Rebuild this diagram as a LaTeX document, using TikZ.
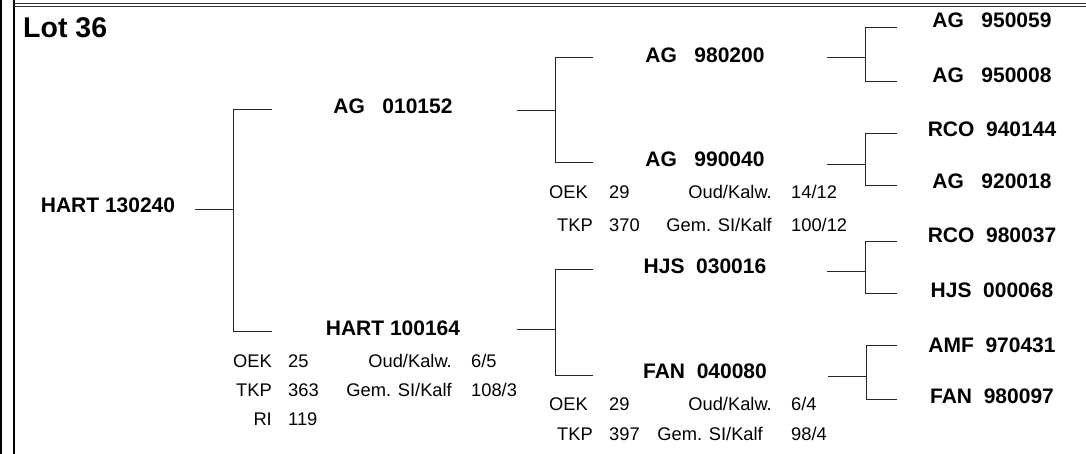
\documentclass[tikz,border=0pt]{standalone}
\usepackage{fontspec}
\setmainfont{Liberation Sans}

\begin{document}
\begin{tikzpicture}[x=1pt, y=-1pt, font=\fontsize{18.3}{22}\selectfont]%

            \tikzstyle{bull} = [inner sep = 0pt, anchor = base, font = \fontsize{21}{25}\selectfont\bfseries]
            \tikzstyle{key} = [inner sep = 0pt, anchor = base east]
            \tikzstyle{val} = [inner sep = 0pt, anchor = base west]
            \tikzstyle{link} = [line width = 0.9pt, black!85]
            \tikzstyle{rule} = [line width = 1pt, black!80]
        %
            \useasboundingbox (0,0) rectangle (1086,454);

                %% Frame
                \draw[line width = 2pt] (1,0) -- (1,454);
                \draw[line width = 1.7pt] (14,0) -- (14,454);
                \draw[rule] (14,3.8) -- (1086,3.8);
                \draw[rule] (14,6.3) -- (1086,6.3);

                \node [anchor = base west, inner sep = 0pt, font = \fontsize{28.5}{32}\selectfont\bfseries] (lot) at (23,38) {Lot 36};

                %% Bulls
                \node [bull] (hart130240) at (108,213) {HART 130240};

                \node [bull] (ag010152) at (393,114) {AG\ \ \ 010152};
                \node [bull] (hart100164) at (393,335) {HART 100164};

                \node [bull] (ag980200) at (705,63) {AG\ \ \ 980200};
                \node [bull] (ag990040) at (705,167) {AG\ \ \ 990040};
                \node [bull] (hjs030016) at (705,273) {HJS\ \ 030016};
                \node [bull] (fan040080) at (705,378) {FAN\ \ 040080};

                \node [bull] (ag950059) at (992,28) {AG\ \ \ 950059};
                \node [bull] (ag950008) at (992,83) {AG\ \ \ 950008};
                \node [bull] (rco940144) at (992,137) {RCO\ \ 940144};
                \node [bull] (ag920018) at (992,189) {AG\ \ \ 920018};
                \node [bull] (rco980037) at (992,243) {RCO\ \ 980037};
                \node [bull] (hjs000068) at (992,297) {HJS\ \ 000068};
                \node [bull] (amf970431) at (992,352) {AMF\ \ 970431};
                \node [bull] (fan980097) at (992,403) {FAN\ \ 980097};

                %% Figures HART 100164
                \node [key] (oek_a) at (272,367) {OEK};
                \node [key] (tkp_a) at (272,396) {TKP};
                \node [key] (ri_a) at (272,425) {RI};
                \node [val] (oekv_a) at (288,367) {25};
                \node [val] (tkpv_a) at (288,396) {363};
                \node [val] (riv_a) at (288,425) {119};
                \node [key] (oud_a) at (452,367) {Oud/Kalw.};
                \node [key] (gem_a) at (452,396) {Gem. SI/Kalf};
                \node [val] (oudv_a) at (471,367) {6/5};
                \node [val] (gemv_a) at (471,396) {108/3};

                %% Figures AG 990040
                \node [key] (oek_b) at (588,199) {OEK};
                \node [key] (tkp_b) at (593,232) {TKP};
                \node [val] (oekv_b) at (609,199) {29};
                \node [val] (tkpv_b) at (609,232) {370};
                \node [key] (oud_b) at (772,199) {Oud/Kalw.};
                \node [key] (gem_b) at (772,232) {Gem. SI/Kalf};
                \node [val] (oudv_b) at (791,199) {14/12};
                \node [val] (gemv_b) at (791,232) {100/12};

                %% Figures FAN 040080
                \node [key] (oek_c) at (588,410) {OEK};
                \node [key] (tkp_c) at (593,440) {TKP};
                \node [val] (oekv_c) at (609,410) {29};
                \node [val] (tkpv_c) at (609,440) {397};
                \node [key] (oud_c) at (772,410) {Oud/Kalw.};
                \node [key] (gem_c) at (763,440) {Gem. SI/Kalf};
                \node [val] (oudv_c) at (791,410) {6/4};
                \node [val] (gemv_c) at (791,440) {98/4};

                %% Line ends
                \coordinate (hart130240-o) at (195,209);
                \coordinate (ag010152-i) at (272,109);
                \coordinate (hart100164-i) at (272,331);
                \coordinate (ag010152-o) at (517,110);
                \coordinate (hart100164-o) at (517,329);
                \coordinate (ag980200-i) at (593,57);
                \coordinate (ag990040-i) at (593,162);
                \coordinate (hjs030016-i) at (593,269);
                \coordinate (fan040080-i) at (593,375);
                \coordinate (ag980200-o) at (827,57);
                \coordinate (ag990040-o) at (827,164);
                \coordinate (hjs030016-o) at (827,271);
                \coordinate (fan040080-o) at (828,376);
                \coordinate (ag950059-i) at (897,27);
                \coordinate (ag950008-i) at (897,81);
                \coordinate (rco940144-i) at (897,133);
                \coordinate (ag920018-i) at (897,185);
                \coordinate (rco980037-i) at (897,241);
                \coordinate (hjs000068-i) at (897,293);
                \coordinate (amf970431-i) at (897,345);
                \coordinate (fan980097-i) at (897,399);

                %% Parents
                \draw[link] (hart130240-o) -- ++(38,0) |- (ag010152-i);
                \draw[link] (hart130240-o) -- ++(38,0) |- (hart100164-i);

                \draw[link] (ag010152-o) -- ++(38,0) |- (ag980200-i);
                \draw[link] (ag010152-o) -- ++(38,0) |- (ag990040-i);
                \draw[link] (hart100164-o) -- ++(38,0) |- (hjs030016-i);
                \draw[link] (hart100164-o) -- ++(38,0) |- (fan040080-i);

                %% Grandparents
                \draw[link] (ag980200-o) -- ++(38,0) |- (ag950059-i);
                \draw[link] (ag980200-o) -- ++(38,0) |- (ag950008-i);
                \draw[link] (ag990040-o) -- ++(38,0) |- (rco940144-i);
                \draw[link] (ag990040-o) -- ++(38,0) |- (ag920018-i);
                \draw[link] (hjs030016-o) -- ++(38,0) |- (rco980037-i);
                \draw[link] (hjs030016-o) -- ++(38,0) |- (hjs000068-i);
                \draw[link] (fan040080-o) -- ++(38,0) |- (amf970431-i);
                \draw[link] (fan040080-o) -- ++(38,0) |- (fan980097-i);

        \end{tikzpicture}
\end{document}
